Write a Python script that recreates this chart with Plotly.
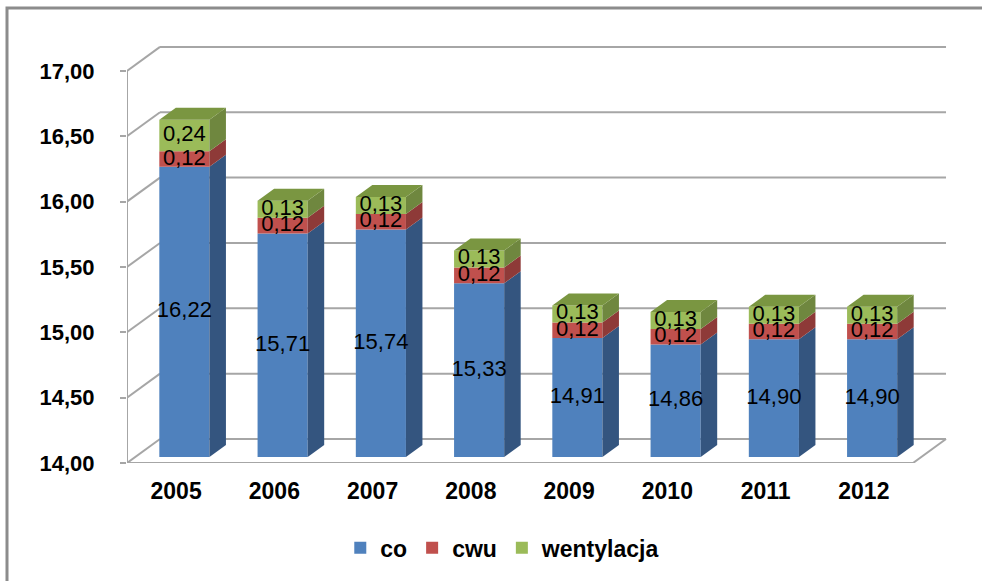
import plotly.graph_objects as go

years = ["2005", "2006", "2007", "2008", "2009", "2010", "2011", "2012"]
co = [16.22, 15.71, 15.74, 15.33, 14.91, 14.86, 14.90, 14.90]
cwu = [0.12, 0.12, 0.12, 0.12, 0.12, 0.12, 0.12, 0.12]
wentylacja = [0.24, 0.13, 0.13, 0.13, 0.13, 0.13, 0.13, 0.13]
y_ticks = [14.0, 14.5, 15.0, 15.5, 16.0, 16.5, 17.0]

AXIS_MIN = 14.0
# pseudo-3D depth in data units
DX = 0.336
DY = 0.1836
BW = 0.51          # bar front width
D0, D1 = 0.25, 0.75  # bar depth span (fraction of total depth)

FONT = "Arial, Liberation Sans, sans-serif"
GRID = "#a6a6a6"

front_cols = ["#4F81BD", "#C0504D", "#9BBB59"]
side_cols = ["#34557f", "#8e3a38", "#6f873f"]
top_col = "#7a9641"
names = ["co", "cwu", "wentylacja"]

xs = list(range(len(years)))
fig = go.Figure()

# stacked segments
segments = []
for i in xs:
    b0 = AXIS_MIN
    t0 = co[i]
    b1 = t0
    t1 = t0 + cwu[i]
    b2 = t1
    t2 = t1 + wentylacja[i]
    segments.append([(b0, t0), (b1, t1), (b2, t2)])

# front faces as bars
for k in range(3):
    fig.add_trace(go.Bar(
        x=[i + D0 * DX for i in xs],
        y=[segments[i][k][1] - segments[i][k][0] for i in xs],
        base=[segments[i][k][0] + D0 * DY for i in xs],
        width=BW,
        marker=dict(color=front_cols[k], line=dict(width=0)),
        name=names[k],
        hoverinfo="skip",
    ))

# side faces & top faces
for i in xs:
    xr = i + D0 * DX + BW / 2
    for k in range(3):
        lo, hi = segments[i][k]
        px = [xr, xr + (D1 - D0) * DX, xr + (D1 - D0) * DX, xr, xr]
        py = [lo + D0 * DY, lo + D1 * DY, hi + D1 * DY, hi + D0 * DY, lo + D0 * DY]
        fig.add_trace(go.Scatter(x=px, y=py, fill="toself", fillcolor=side_cols[k],
                                 mode="lines", line=dict(width=0), showlegend=False,
                                 hoverinfo="skip"))
    top = segments[i][2][1]
    xl = i + D0 * DX - BW / 2
    px = [xl, xr, xr + (D1 - D0) * DX, xl + (D1 - D0) * DX, xl]
    py = [top + D0 * DY, top + D0 * DY, top + D1 * DY, top + D1 * DY, top + D0 * DY]
    fig.add_trace(go.Scatter(x=px, y=py, fill="toself", fillcolor=top_col,
                             mode="lines", line=dict(width=0), showlegend=False,
                             hoverinfo="skip"))

# data labels
lab_x, lab_y, lab_t = [], [], []
vals = [co, cwu, wentylacja]
for i in xs:
    for k in range(3):
        lo, hi = segments[i][k]
        lab_x.append(i + D0 * DX)
        lab_y.append((lo + hi) / 2 + D0 * DY)
        lab_t.append(f"{vals[k][i]:.2f}".replace(".", ","))
fig.add_trace(go.Scatter(x=lab_x, y=lab_y, text=lab_t, mode="text",
                         textfont=dict(family=FONT, size=22, color="black"),
                         showlegend=False, hoverinfo="skip"))

# walls / gridlines
shapes = []
x_left = -0.5
x_right = len(years) - 0.5
for v in y_ticks:
    shapes.append(dict(type="line", xref="x", yref="y", x0=x_left, y0=v,
                       x1=x_left + DX, y1=v + DY, line=dict(color=GRID, width=2), layer="below"))
    shapes.append(dict(type="line", xref="x", yref="y", x0=x_left + DX, y0=v + DY,
                       x1=x_right + DX, y1=v + DY, line=dict(color=GRID, width=2), layer="below"))
# floor front edge and right edge
shapes.append(dict(type="line", xref="x", yref="y", x0=x_left, y0=AXIS_MIN,
                   x1=x_right, y1=AXIS_MIN, line=dict(color=GRID, width=2), layer="below"))
shapes.append(dict(type="line", xref="x", yref="y", x0=x_right, y0=AXIS_MIN,
                   x1=x_right + DX, y1=AXIS_MIN + DY, line=dict(color=GRID, width=2), layer="below"))
# front value axis
shapes.append(dict(type="line", xref="x", yref="y", x0=x_left, y0=y_ticks[0],
                   x1=x_left, y1=y_ticks[-1], line=dict(color=GRID, width=2), layer="below"))

L, R, T, B = 127, 35, 43, 118
W, H = 982, 581
pw = W - L - R
ph = H - T - B
# outer frame (left and top edges visible), in paper units
fx = (7 - L) / pw
fy_top = (H - B - 8) / ph
fy_bot = (H - B - 600) / ph
fx_r = (1000 - L) / pw
shapes.append(dict(type="path", xref="paper", yref="paper",
                   path=f"M {fx} {fy_bot} L {fx} {fy_top} L {fx_r} {fy_top}",
                   line=dict(color="#8c8c8c", width=3)))

fig.update_layout(
    width=W, height=H,
    margin=dict(l=L, r=R, t=T, b=B),
    paper_bgcolor="white", plot_bgcolor="white",
    barmode="overlay",
    separators=", ",
    shapes=shapes,
    font=dict(family=FONT, size=20, color="black"),
    showlegend=True,
    legend=dict(orientation="h", xref="container", yref="container",
                x=0.512, y=0.057, xanchor="center", yanchor="middle",
                font=dict(family=FONT, size=23, color="black", weight="bold"),
                itemwidth=30, tracegroupgap=0, traceorder="normal"),
    xaxis=dict(range=[x_left, x_left + pw / 98.25], tickvals=xs, ticktext=years,
               showgrid=False, zeroline=False, showline=False, ticks="",
               ticklabelstandoff=12,
               tickfont=dict(family=FONT, size=23, color="black", weight="bold")),
    yaxis=dict(range=[AXIS_MIN, AXIS_MIN + ph / 130.7], tickvals=y_ticks,
               tickformat=".2f", showgrid=False, zeroline=False, showline=False,
               ticks="outside", ticklen=6, tickcolor=GRID, tickwidth=2,
               ticklabelstandoff=21,
               tickfont=dict(family=FONT, size=22, color="black", weight="bold")),
)

fig.write_html("out.html", config={"displayModeBar": False},
               post_script="document.body.style.margin='0';document.body.style.overflow='hidden';")
